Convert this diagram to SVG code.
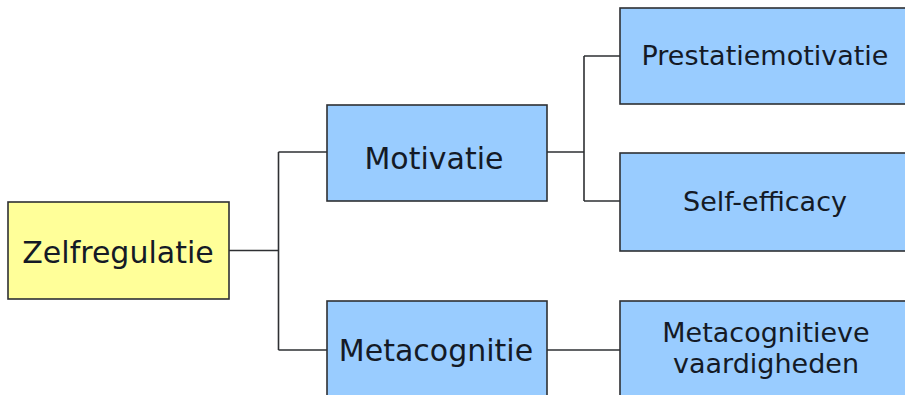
<svg xmlns="http://www.w3.org/2000/svg" width="905" height="395" viewBox="0 0 905 395">
<style>
.box{stroke:#2e3033;stroke-width:1.6}
.blue{fill:#99ccff}
.yellow{fill:#ffff99}
.t{font-family:"DejaVu Sans","Verdana",sans-serif;fill:#141a26;text-anchor:middle}
.big{font-size:30px}
.small{font-size:27px}
.conn{fill:none;stroke:#2e3033;stroke-width:1.6}
</style>
<rect width="905" height="395" fill="#ffffff"/>
<g id="connectors">
<path class="conn" d="M229,250.5H278.5M278.5,152V350M278.5,152H327M278.5,350H327"/>
<path class="conn" d="M547,152H584M584,56V201M584,56H620M584,201H620"/>
<path class="conn" d="M547,350H620"/>
</g>
<g id="zelfregulatie">
<rect class="box yellow" x="8" y="202" width="221" height="97"/>
<text class="t big" x="118" y="263">Zelfregulatie</text>
</g>
<g id="motivatie">
<rect class="box blue" x="327" y="105" width="220" height="96"/>
<text class="t big" x="434" y="169">Motivatie</text>
</g>
<g id="metacognitie">
<rect class="box blue" x="327" y="301" width="220" height="110"/>
<text class="t big" x="436" y="361">Metacognitie</text>
</g>
<g id="prestatiemotivatie">
<rect class="box blue" x="620" y="8" width="300" height="96"/>
<text class="t small" x="765" y="65">Prestatiemotivatie</text>
</g>
<g id="self-efficacy">
<rect class="box blue" x="620" y="153" width="300" height="98"/>
<text class="t small" x="765" y="211">Self-efficacy</text>
</g>
<g id="metacognitieve-vaardigheden">
<rect class="box blue" x="620" y="301" width="300" height="110"/>
<text class="t small" x="766" y="342">Metacognitieve</text>
<text class="t small" x="766" y="373">vaardigheden</text>
</g>
</svg>
